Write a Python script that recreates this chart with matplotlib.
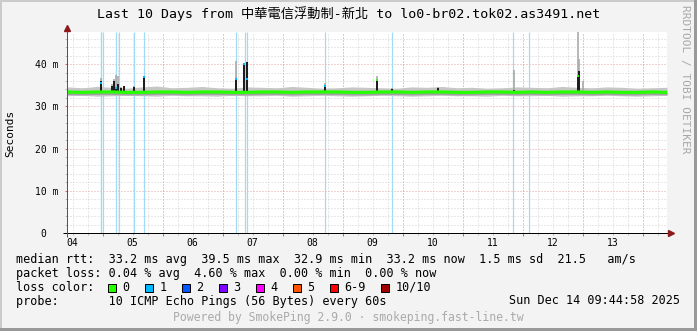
import numpy as np
import matplotlib
matplotlib.use("Agg")
import matplotlib.pyplot as plt
from matplotlib.patches import Rectangle

W, H = 697, 331
PX = 72 / 100  # one pixel in points at dpi 100
MONO = ["DejaVu Sans Mono", "Noto Sans CJK TC"]
plt.rcParams["font.family"] = MONO

# plot window, in day-of-month units: Dec 4 09:44:58 -> Dec 14 09:44:58
t0 = 4 + (9 + 44 / 60 + 58 / 3600) / 24
t1 = t0 + 10
y_top = 47.6

# baseline smoke, sampled every 6 h
base_day = t0 + 0.25 * np.arange(41)
base_med = [33.4, 33.3, 33.4, 33.4, 33.3, 33.3, 33.4, 33.4, 33.3, 33.4,
            33.4, 33.3, 33.3, 33.4, 33.4, 33.3, 33.4, 33.4, 33.4, 33.3,
            33.3, 33.4, 33.4, 33.3, 33.4, 33.4, 33.3, 33.3, 33.4, 33.4,
            33.3, 33.4, 33.3, 33.4, 33.4, 33.3, 33.4, 33.3, 33.3, 33.4, 33.3]
base_hi = [34.6, 34.4, 34.7, 34.5, 34.3, 34.6, 34.8, 34.4, 34.5, 34.7,
           34.4, 34.3, 34.6, 34.5, 34.4, 34.7, 34.5, 34.3, 34.4, 34.6,
           34.5, 34.4, 34.3, 34.6, 34.5, 34.7, 34.4, 34.5, 34.3, 34.4,
           34.6, 34.5, 34.4, 34.7, 34.5, 34.4, 34.6, 34.5, 34.3, 34.4, 34.5]
base_lo = [32.5, 32.6, 32.4, 32.5, 32.6, 32.5, 32.4, 32.6, 32.5, 32.5,
           32.4, 32.6, 32.5, 32.5, 32.6, 32.4, 32.5, 32.6, 32.5, 32.4,
           32.5, 32.6, 32.5, 32.4, 32.5, 32.6, 32.5, 32.5, 32.4, 32.6,
           32.5, 32.5, 32.6, 32.4, 32.5, 32.5, 32.6, 32.5, 32.4, 32.5, 32.6]

# loss bars (1 of 10 pings lost)
loss_day = [4.965, 4.981, 4.998, 5.223, 5.278, 5.528, 5.694, 7.228,
            7.378, 7.411, 8.711, 9.828, 11.844, 12.111]

# latency spikes: top of light smoke / top of dense (dark) smoke, ms
spike_day = [4.973, 5.161, 5.194, 5.223, 5.261, 5.306, 5.361, 5.528, 5.689,
             7.223, 7.361, 7.401, 7.414, 8.706, 9.568, 9.828, 10.594,
             11.856, 12.928, 12.945, 13.001]
spike_light = [36.6, 35.2, 36.4, 37.5, 37.2, 34.6, 34.9, 34.8, 37.2,
               40.8, 40.2, 40.6, 36.4, 35.6, 37.2, 34.4, 34.6,
               38.6, 47.6, 41.2, 36.0]
spike_dark = [36.0, 34.8, 36.0, 34.6, 35.2, 34.4, 34.7, 34.6, 37.0,
              36.4, 40.0, 40.4, 36.4, 34.7, 36.4, 34.0, 34.3,
              33.8, 37.2, 38.4, 33.5]

# median values that left the baseline, with their loss count
med_day = [4.973, 5.223, 5.689, 7.223, 7.361, 7.414, 8.706, 9.568, 12.928]
med_val = [35.6, 34.4, 37.0, 36.4, 40.0, 36.4, 34.7, 36.3, 37.2]
med_loss = [1, 1, 1, 1, 1, 1, 1, 0, 0]

day_labels = ["04", "05", "06", "07", "08", "09", "10", "11", "12", "13"]
y_ticks = [0, 10, 20, 30, 40]
y_labels = ["0  ", "10 m", "20 m", "30 m", "40 m"]
loss_labels = ["0", "1", "2", "3", "4", "5", "6-9", "10/10"]
loss_colors = ["#26ff00", "#00b8ff", "#0059ff", "#7e00ff",
               "#ff00ff", "#ff5500", "#ff0000", "#a10000"]

title = "Last 10 Days from 中華電信浮動制-新北 to lo0-br02.tok02.as3491.net"
rtt_line = "median rtt:  33.2 ms avg  39.5 ms max  32.9 ms min  33.2 ms now  1.5 ms sd  21.5   am/s"
loss_line = "packet loss: 0.04 % avg  4.60 % max  0.00 % min  0.00 % now"
probe_line = "probe:       10 ICMP Echo Pings (56 Bytes) every 60s"
stamp = "Sun Dec 14 09:44:58 2025"
footer = "Powered by SmokePing 2.9.0 · smokeping.fast-line.tw"


def fx(px):
    return px / W


def fy(py):
    return 1 - py / H


def ftext(px, py, s, **kw):
    fig.text(fx(px), fy(py), s, **kw)


fig = plt.figure(figsize=(W / 100, H / 100), dpi=100, facecolor="#f3f3f3")

# shaded frame round the image
fig.add_artist(Rectangle((0, 0), fx(2), 1, transform=fig.transFigure, color="#cbcbcb", lw=0))
fig.add_artist(Rectangle((0, fy(2)), 1, 2 / H, transform=fig.transFigure, color="#cbcbcb", lw=0))
fig.add_artist(Rectangle((fx(694), 0), 3 / W, 1, transform=fig.transFigure, color="#999999", lw=0))
fig.add_artist(Rectangle((0, 0), 1, 3 / H, transform=fig.transFigure, color="#999999", lw=0))

ax = fig.add_axes([fx(67), fy(233), 600 / W, 201 / H])
ax.set_facecolor("white")
ax.set_xlim(t0, t1)
ax.set_ylim(0, y_top)
for s in ax.spines.values():
    s.set_visible(False)

# grid: 6 h / 2 ms minor in grey, midnight / 10 ms major in red
dots = (0, (1, 2))
for d in np.arange(4.5, t1, 0.25):
    ax.axvline(d, color="#d2d2d2", lw=PX, ls=dots, zorder=1)
for v in range(2, 48, 2):
    if v % 10:
        ax.axhline(v, color="#d2d2d2", lw=PX, ls=dots, zorder=1)
for d in range(5, 15):
    ax.axvline(d, color="#e3a6a6", lw=PX, ls=dots, zorder=1.1)
for v in y_ticks[1:]:
    ax.axhline(v, color="#e3a6a6", lw=PX, ls=dots, zorder=1.1)

# loss bars
ax.vlines(loss_day, 0, y_top, color="#a0daf4", lw=1.2 * PX, zorder=2)

# smoke
ax.fill_between(base_day, base_lo, base_hi, color="#c6c6c6", lw=0, zorder=3)
ax.fill_between(base_day, np.array(base_med) - 0.6, base_med, color="#a2a2a2", lw=0, zorder=3.1)
ax.vlines(spike_day, 33.0, spike_light, color="#a8a8a8", lw=1.6 * PX, zorder=3.2)
ax.vlines(spike_day, 33.2, spike_dark, color="#1e1e1e", lw=2.0 * PX, zorder=4)

# median line and off-baseline median points coloured by loss
ax.plot(base_day, base_med, color=loss_colors[0], lw=3.2 * PX, zorder=5)
for d, v, n in zip(med_day, med_val, med_loss):
    ax.plot(d, v, "s", ms=2.4 * PX, mew=0, color=loss_colors[n], zorder=6)

# ticks and labels
ax.set_yticks(y_ticks, labels=y_labels)
ax.set_yticks(range(0, 48, 2), minor=True)
ax.set_xticks([d + 0.5 for d in range(4, 14)], labels=day_labels)
ax.set_xticks(np.arange(4.5, t1, 0.25), minor=True)
ax.tick_params(axis="y", which="major", length=2.5 * PX, width=PX, color="#c07070",
               pad=4.2, labelsize=7)
ax.tick_params(axis="y", which="minor", length=2 * PX, width=PX, color="#bbbbbb")
ax.tick_params(axis="x", which="both", length=2 * PX, width=PX, color="#bbbbbb",
               pad=2.2, labelsize=7)
ax.vlines(range(5, 15), -3 / 201, 0, transform=ax.get_xaxis_transform(),
          color="#c07070", lw=PX, clip_on=False, zorder=7)

# axes with arrows
ax.plot([-4 / 600, 604 / 600], [0, 0], transform=ax.transAxes, color="black",
        lw=PX, clip_on=False, zorder=8, solid_capstyle="butt")
ax.plot([0, 0], [-4 / 201, 1 + 4 / 201], transform=ax.transAxes, color="#555555",
        lw=PX, clip_on=False, zorder=8, solid_capstyle="butt")
ax.plot(604 / 600, 0, ">", ms=4.5, color="#8b1a1a", transform=ax.transAxes, clip_on=False, zorder=9)
ax.plot(0, 1 + 4 / 201, "^", ms=4.5, color="#8b1a1a", transform=ax.transAxes, clip_on=False, zorder=9)

# texts
ftext(348.5, 14, title, fontsize=9.5, ha="center", va="center")
ftext(10.5, 133, "Seconds", fontsize=8, rotation=90, ha="center", va="center")
ftext(685, 5, "RRDTOOL / TOBI OETIKER", fontsize=8, rotation=270, ha="center",
      va="top", color="#a8a8a8")

lg = dict(fontsize=8.5, va="center")
ftext(16, 259, rtt_line, **lg)
ftext(16, 273, loss_line, **lg)
ftext(16, 287.5, "loss color:", **lg)
ftext(16, 301, probe_line, **lg)
ftext(680, 301, stamp, ha="right", **lg)
ftext(348.5, 318, footer, fontsize=8.3, ha="center", va="center", color="#aaaaaa")

cw = 7.11
bx = 16 + 13 * cw
for lab, col in zip(loss_labels, loss_colors):
    fig.add_artist(Rectangle((fx(bx), fy(291.5)), 8 / W, 8 / H, transform=fig.transFigure,
                             facecolor=col, edgecolor="black", lw=PX))
    ftext(bx + 2 * cw, 287.5, lab, **lg)
    bx += (len(lab) + 4) * cw + 1.4

fig.savefig("out.png", dpi=100, facecolor=fig.get_facecolor())
